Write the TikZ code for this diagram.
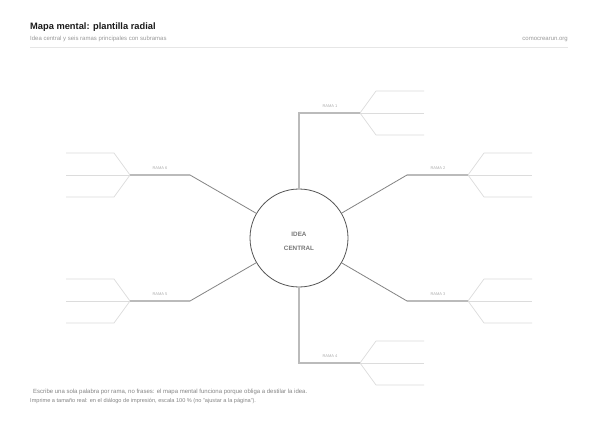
\documentclass[tikz,border=0pt]{standalone}
\usepackage{fontspec}
\setmainfont{Liberation Sans}
\definecolor{ctitle}{HTML}{1A1A1A}
\definecolor{cmuted}{HTML}{9A9A9A}
\definecolor{cfoot}{HTML}{858585}
\definecolor{crule}{HTML}{E6E6E6}
\definecolor{ccirc}{HTML}{555555}
\definecolor{cdiag}{HTML}{858585}
\definecolor{ctrunk}{HTML}{BBBBBB}
\definecolor{csub}{HTML}{DCDCDC}
\definecolor{clabel}{HTML}{ADADAD}
\definecolor{ccenter}{HTML}{777777}
\begin{document}
\begin{tikzpicture}[x=1pt,y=-1pt,
  diag/.style={draw=cdiag,line width=0.8pt},
  trunk/.style={draw=ctrunk,line width=1.2pt},
  subline/.style={draw=csub,line width=0.7pt},
  ramalabel/.style={anchor=base,inner sep=0pt,text=clabel,font=\fontsize{4}{5}\selectfont},
  centertext/.style={anchor=base,inner sep=0pt,text=ccenter,font=\fontsize{6.3}{8}\selectfont\bfseries},
  titletext/.style={anchor=base west,inner sep=0pt,text=ctitle,font=\fontsize{9.3}{11}\selectfont\bfseries},
  smalltext/.style={inner sep=0pt,text=cmuted,font=\fontsize{6}{7}\selectfont},
  foottext/.style={anchor=base west,inner sep=0pt,text=cfoot}]
\path[use as bounding box,fill=white] (0,0) rectangle (600,425);

% header
\node[titletext] (title) at (30,30) {Mapa mental: plantilla radial};
\node[smalltext,anchor=base west] (subtitle) at (30,41) {Idea central y seis ramas principales con subramas};
\node[smalltext,anchor=base east] (site) at (568,41) {comocrearun.org};
\coordinate (ruleL) at (30,47);
\coordinate (ruleR) at (568,47);
\draw[crule,line width=0.6pt] (ruleL) -- (ruleR);

% center
\node[circle,draw=ccirc,line width=0.8pt,minimum size=98pt,inner sep=0pt] (c) at (299,238) {};
\node[centertext] (idea) at (299,236) {IDEA};
\node[centertext] (central) at (299,250.3) {CENTRAL};

% junctions and elbows
\coordinate (k1) at (299,113);
\coordinate (k4) at (299,363);
\coordinate (d2) at (407,175);
\coordinate (d3) at (407,301);
\coordinate (d5) at (190,301);
\coordinate (d6) at (190,175);

\foreach \n/\jx/\jy/\d in {1/360/113/1, 2/468/175/1, 3/468/301/1, 4/360/363/1, 5/130/301/-1, 6/130/175/-1}{
  \coordinate (j\n) at (\jx,\jy);
  \coordinate (ka\n) at ([shift={(\d*16,-22)}]j\n);
  \coordinate (ea\n) at ([shift={(\d*64,-22)}]j\n);
  \coordinate (eb\n) at ([shift={(\d*64,0)}]j\n);
  \coordinate (kc\n) at ([shift={(\d*16,22)}]j\n);
  \coordinate (ec\n) at ([shift={(\d*64,22)}]j\n);
  \draw[subline] (j\n) -- (ka\n) -- (ea\n);
  \draw[subline] (j\n) -- (eb\n);
  \draw[subline] (j\n) -- (kc\n) -- (ec\n);
}

% main branches
\draw[trunk] (c.north) -- (k1) -- (j1);
\draw[trunk] (c.south) -- (k4) -- (j4);
\draw[diag] (c) -- (d2);
\draw[diag] (c) -- (d3);
\draw[diag] (c) -- (d5);
\draw[diag] (c) -- (d6);
\draw[trunk] (d2) -- (j2);
\draw[trunk] (d3) -- (j3);
\draw[trunk] (d5) -- (j5);
\draw[trunk] (d6) -- (j6);

% labels
\node[ramalabel] (r1) at (330,107.5) {RAMA 1};
\node[ramalabel] (r2) at (438,169.5) {RAMA 2};
\node[ramalabel] (r3) at (438,295.5) {RAMA 3};
\node[ramalabel] (r4) at (330,357.5) {RAMA 4};
\node[ramalabel] (r5) at (160,295.5) {RAMA 5};
\node[ramalabel] (r6) at (160,169.5) {RAMA 6};

% footer
\node[foottext,font=\fontsize{6}{7}\selectfont] (foot1) at (33,393) {Escribe una sola palabra por rama, no frases: el mapa mental funciona porque obliga a destilar la idea.};
\node[foottext,font=\fontsize{5.6}{6.5}\selectfont] (foot2) at (30,402) {Imprime a tamaño real: en el diálogo de impresión, escala 100~\% (no "ajustar a la página").};
\end{tikzpicture}
\end{document}
